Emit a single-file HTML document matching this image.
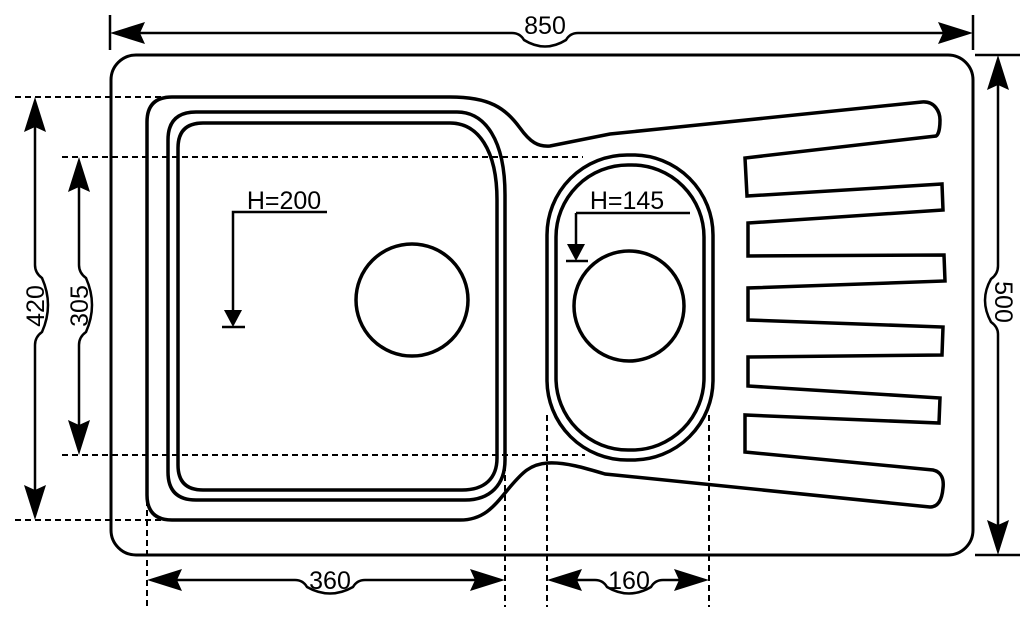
<!DOCTYPE html>
<html><head><style>
html,body{margin:0;padding:0;background:#fff;}
svg{display:block;}
text{font-family:"Liberation Sans",Arial,sans-serif;font-size:25px;fill:#000;}
</style></head><body>
<svg width="1024" height="624" viewBox="0 0 1024 624" xmlns="http://www.w3.org/2000/svg">
<g fill="none" stroke="#000">
<rect x="111" y="55" width="862" height="500" rx="25" stroke-width="3"/>
<path stroke-width="3.5" d="M147,122 Q147,97 172,97 L450,97 C490,97 505,108 520,128 C530,142 538,147 550,146 L610,134 L922,102 C935,101 940,112 940,120 C940,130 938,135 936,136 L745,158 L747,196 L942,184 L943,210 L748,223 L748,256 L944,255 L945,281 L748,288 L748,320 L943,327 L942,355 L748,357 L748,386 L940,398 L939,423 L745,415 L745,452 L933,470 C942,472 944,480 943,488 C942,500 938,507 930,507 L605,474 C585,468 565,462 548,463 C530,464 522,473 510,487 C495,505 485,520 460,520 L172,520 Q147,520 147,495 Z"/>
<path stroke-width="3.5" d="M168,140 Q168,112 196,112 L457,112 C485,112 505,140 505,195 L505,460 C505,485 490,500 465,500 L196,500 Q168,500 168,472 Z"/>
<path stroke-width="3.5" d="M178,148 Q178,123 203,123 L450,123 C478,123 497,150 497,200 L497,458 C497,478 485,490 462,490 L203,490 Q178,490 178,465 Z"/>
<rect x="547" y="155" width="166" height="305" rx="80" stroke-width="3.5"/>
<rect x="556" y="165" width="148" height="285" rx="72" stroke-width="3.5"/>
<circle cx="412" cy="300" r="56" stroke-width="3.5"/>
<circle cx="629" cy="306" r="55" stroke-width="3.5"/>
<path stroke-width="2.5" d="M327,212 L233,212 L233,312 M222,327 L245,327 M576,213 L690,213 M576,213 L576,245 M566,261 L588,261"/>
<g stroke-width="2" stroke-dasharray="6,4">
<path d="M15,97 L170,97 M62,157 L583,157 M62,455 L585,455 M15,520 L170,520"/>
<path d="M147,470 L147,607 M505,465 L505,607 M547,415 L547,607 M709,415 L709,607"/>
</g>
<g stroke-width="2.5">
<path d="M110,15 L110,50 M973,15 L973,50 M975,55 L1020,55 M975,555 L1020,555"/>
<path d="M140,33 L512,33 Q520,33 524,40 Q545,53 566,40 Q570,33 578,33 L945,33"/>
<path d="M998,85 L998,266 Q998,274 991,279 Q979,300 991,322 Q998,327 998,334 L998,525"/>
<path d="M35,125 L35,265 Q35,273 42,278 Q54,305 42,332 Q35,337 35,345 L35,492"/>
<path d="M79,185 L79,265 Q79,273 86,278 Q98,305 86,332 Q79,337 79,345 L79,427"/>
<path d="M175,580 L295,580 Q303,580 307,587 Q330,600 353,587 Q357,580 365,580 L478,580"/>
<path d="M575,580 L595,580 Q603,580 607,587 Q629,600 651,587 Q655,580 663,580 L681,580"/>
</g>
</g>
<g fill="#000">
<path d="M110,33 L145,22 L140,33 L145,44 Z"/>
<path d="M973,33 L938,22 L943,33 L938,44 Z"/>
<path d="M998,55 L987,90 L998,85 L1009,90 Z"/>
<path d="M998,555 L987,520 L998,525 L1009,520 Z"/>
<path d="M35,97 L24,132 L35,127 L46,132 Z"/>
<path d="M35,520 L24,485 L35,490 L46,485 Z"/>
<path d="M79,157 L68,192 L79,187 L90,192 Z"/>
<path d="M79,455 L68,420 L79,425 L90,420 Z"/>
<path d="M147,580 L182,569 L177,580 L182,591 Z"/>
<path d="M505,580 L470,569 L475,580 L470,591 Z"/>
<path d="M547,580 L582,569 L577,580 L582,591 Z"/>
<path d="M709,580 L674,569 L679,580 L674,591 Z"/>
<path d="M233,327 L224,310 L242,310 Z"/>
<path d="M576,261 L567,244 L585,244 Z"/>
</g>
<text x="545" y="34" text-anchor="middle">850</text>
<text x="330" y="589" text-anchor="middle">360</text>
<text x="629" y="589" text-anchor="middle">160</text>
<text x="284" y="209" text-anchor="middle">H=200</text>
<text x="627" y="209" text-anchor="middle">H=145</text>
<text transform="translate(44,306) rotate(-90)" text-anchor="middle">420</text>
<text transform="translate(88,306) rotate(-90)" text-anchor="middle">305</text>
<text transform="translate(995,302) rotate(90)" text-anchor="middle">500</text>
</svg>
</body></html>
